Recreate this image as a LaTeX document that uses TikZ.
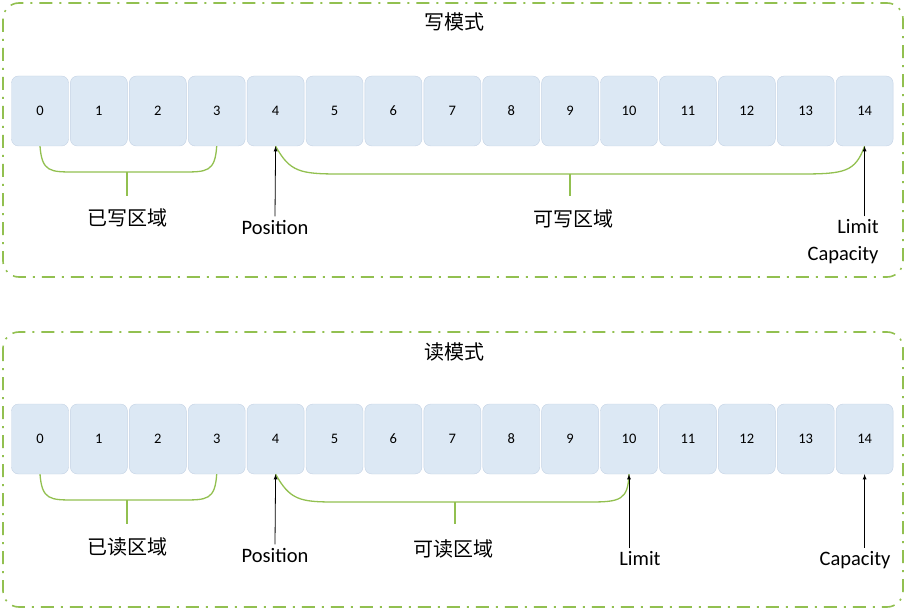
\documentclass[tikz,border=0pt]{standalone}
\usepackage{fontspec}
\setmainfont{Carlito}
\newfontfamily\cjk{Noto Sans CJK SC}
\begin{document}
\begin{tikzpicture}[x=1pt,y=-1pt,
  cell/.style={draw={rgb,255:red,196;green,210;blue,228},fill={rgb,255:red,220;green,232;blue,244},rounded corners=7pt,minimum width=57pt,minimum height=70pt,inner sep=0pt,font=\fontsize{14.5}{16}\selectfont},
  frame/.style={draw={rgb,255:red,146;green,192;blue,80},line width=1.6pt,rounded corners=16pt,dash pattern=on 13pt off 7pt on 2pt off 7pt},
  brace/.style={draw={rgb,255:red,146;green,192;blue,80},line width=1.3pt},
  lab/.style={font=\fontsize{20.5}{23}\selectfont},
  cjklab/.style={font=\cjk\fontsize{20}{23}\selectfont},
  arr/.style={-latex,line width=0.8pt}]
\useasboundingbox (0,0) rectangle (908,615);
\draw[frame] (3,3) rectangle (903,277);
\draw[frame] (3,332) rectangle (903,607);
\node[cjklab] (t1) at (454,22) {写模式};
\node[cjklab] (t2) at (454,352) {读模式};
\foreach \i in {0,...,14}{
  \node[cell] (c\i) at ({40+58.9*\i},111) {\i};
  \node[cell] (d\i) at ({40+58.9*\i},439) {\i};
}
% top
\draw[brace] (c0.south) .. controls (42,172) and (50,172) .. (75,172) -- (182,172) .. controls (207,172) and (215,172) .. (c3.south);
\draw[brace] (127,172) -- (127,196);
\draw[brace] (c4.south) .. controls (290,172) and (300,174) .. (340,174) -- (800,174) .. controls (845,174) and (855,172) .. (c14.south);
\draw[brace] (570,174) -- (570,196);
\node[cjklab] (w1) at (127,218) {已写区域};
\node[cjklab] (w2) at (573,219) {可写区域};
\node[lab] (p1) at (275,227) {Position};
\node[lab] (l1) at (858,227) {Limit};
\node[lab] (cap1) at (843,255) {Capacity};
\draw[arr] (p1.north) -- (c4.south);
\draw[arr] (l1.north -| c14.south) -- (c14.south);
% bottom
\draw[brace] (d0.south) .. controls (42,500) and (50,500) .. (75,500) -- (182,500) .. controls (207,500) and (215,500) .. (d3.south);
\draw[brace] (127,500) -- (127,524);
\draw[brace] (d4.south) .. controls (290,500) and (300,502) .. (335,502) -- (590,502) .. controls (620,502) and (628,500) .. (d10.south);
\draw[brace] (455,502) -- (455,524);
\node[cjklab] (r1) at (127,547) {已读区域};
\node[cjklab] (r2) at (453,549) {可读区域};
\node[lab] (p2) at (275,555) {Position};
\node[lab] (l2) at (640,559) {Limit};
\node[lab] (cap2) at (855,560) {Capacity};
\draw[arr] (p2.north) -- (d4.south);
\draw[arr] (l2.north -| d10.south) -- (d10.south);
\draw[arr] (cap2.north -| d14.south) -- (d14.south);
\end{tikzpicture}
\end{document}
